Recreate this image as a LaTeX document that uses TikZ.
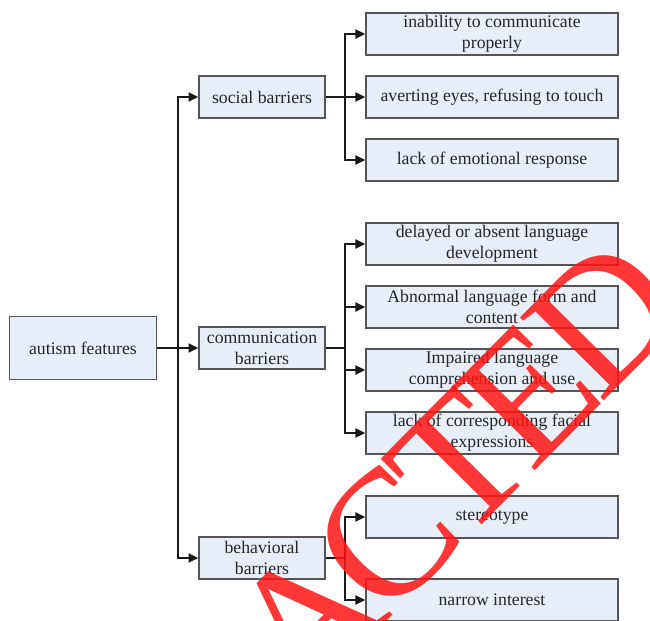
\documentclass[tikz,border=0pt]{standalone}
\usepackage{fontspec}
\setmainfont{Liberation Serif}
\usetikzlibrary{arrows.meta, positioning}
\definecolor{boxfill}{RGB}{232,238,247}
\definecolor{boxline}{RGB}{85,85,85}
\definecolor{stamp}{RGB}{255,20,20}
\newcommand{\stampgap}{\kern-0.063em}

\begin{document}
\begin{tikzpicture}[
    x=0.025cm, y=-0.025cm,
    feature/.style={rectangle, draw=boxline, line width=0.9pt, fill=boxfill, align=center, inner sep=1pt, text=black!85, font=\fontsize{12.6}{14.9}\selectfont},
    root/.style={feature, minimum width=3.675cm, minimum height=1.575cm},
    group/.style={feature, minimum width=3.15cm, minimum height=1.05cm},
    leaf/.style={feature, minimum width=6.3cm, minimum height=1.05cm},
    link/.style={line width=1.3pt, black!90},
    arrow/.style={link, -{Triangle[length=7pt,width=6.5pt]}}
]
    \useasboundingbox (0,0) rectangle (650,620);

    \node[root] (autism) at (83,348) {autism features};
    \node[group] (social) at (262,97) {social barriers};
    \node[group] (comm) at (262,348) {communication\\barriers};
    \node[group] (behav) at (262,558) {behavioral\\barriers};

    \node[leaf] (s1) at (492,34) {inability to communicate\\properly};
    \node[leaf] (s2) at (492,97) {averting eyes, refusing to touch};
    \node[leaf] (s3) at (492,160) {lack of emotional response};
    \node[leaf] (c1) at (492,244) {delayed or absent language\\development};
    \node[leaf] (c2) at (492,307) {Abnormal language form and\\content};
    \node[leaf] (c3) at (492,370) {Impaired language\\comprehension and use};
    \node[leaf] (c4) at (492,433) {lack of corresponding facial\\expressions};
    \node[leaf] (b1) at (492,517) {stereotype};
    \node[leaf] (b2) at (492,600) {narrow interest};

    % trunk from the root
    \coordinate (trunk) at (178,348);
    \draw[arrow] (autism) -- (comm);
    \draw[arrow] (trunk) |- (social);
    \draw[arrow] (trunk) |- (behav);

    % forks to the leaves
    \coordinate (sfork) at (345,97);
    \coordinate (cfork) at (345,348);
    \coordinate (bfork) at (345,558);
    \draw[link] (social) -- (sfork);
    \draw[link] (comm) -- (cfork);
    \draw[link] (behav) -- (bfork);
    \draw[arrow] (sfork) |- (s1);
    \draw[arrow] (sfork) -- (s2);
    \draw[arrow] (sfork) |- (s3);
    \draw[arrow] (cfork) |- (c1);
    \draw[arrow] (cfork) |- (c2);
    \draw[arrow] (cfork) |- (c3);
    \draw[arrow] (cfork) |- (c4);
    \draw[arrow] (bfork) |- (b1);
    \draw[arrow] (bfork) |- (b2);

    % stamp over the picture
    \node[rotate=45.3, text=stamp, opacity=0.85, inner sep=0pt, font=\fontsize{128}{130}\selectfont] (stampword) at (341,584)
        {R\stampgap E\stampgap D\stampgap A\stampgap C\stampgap T\stampgap E\stampgap D};
\end{tikzpicture}
\end{document}
